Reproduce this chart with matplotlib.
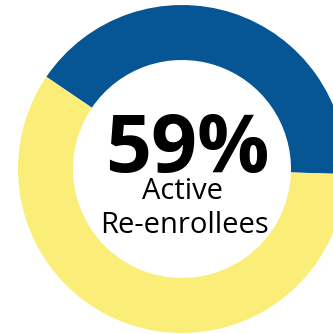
import matplotlib
matplotlib.use("Agg")
import matplotlib.pyplot as plt

# Share of re-enrollees by status
labels = ["Inactive", "Active"]
values = [41, 59]
colors = ["#065595", "#FAEE79"]
headline = "59%"
caption_lines = ["Active", "Re-enrollees"]

W, H = 333, 334
fig = plt.figure(figsize=(W / 100, H / 100), dpi=100)
ax = fig.add_axes([0, 0, 1, 1])

cx, cy = 182, 165
R = 164
ax.pie(values, colors=colors, center=(cx, cy), radius=R,
       startangle=145.8, counterclock=False,
       wedgeprops=dict(width=55, linewidth=0), frame=True)
ax.set_xlim(0, W)
ax.set_ylim(0, H)
ax.axis("off")

ax.text(187, 162, headline, ha="center", va="baseline",
        fontsize=58, fontweight="bold", family="Open Sans", color="black")
ax.text(183, 135, caption_lines[0], ha="center", va="baseline",
        fontsize=21, family="Open Sans", color="black")
ax.text(184, 101, caption_lines[1], ha="center", va="baseline",
        fontsize=21, family="Open Sans", color="black")

fig.savefig("out.png", dpi=100)
